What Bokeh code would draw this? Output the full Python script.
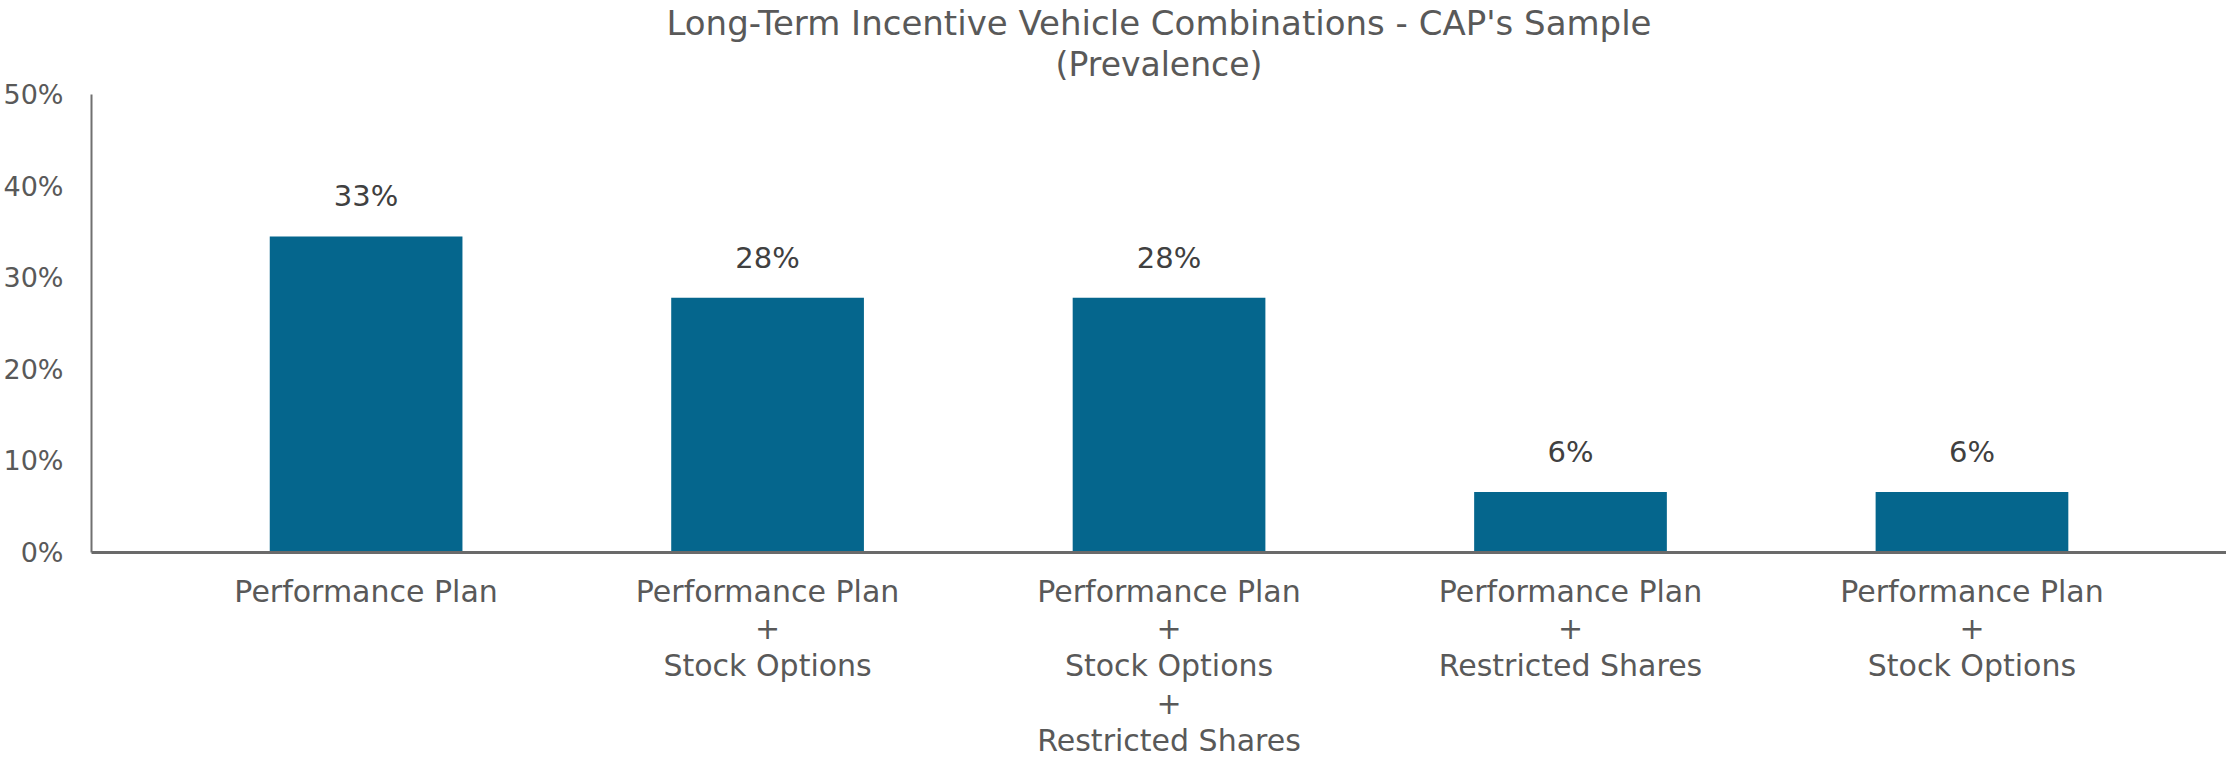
from bokeh.plotting import figure
from bokeh.models import Range1d, FixedTicker, PrintfTickFormatter, ColumnDataSource, LabelSet, Title
from bokeh.embed import file_html
from bokeh.resources import INLINE
from bokeh.core.properties import value

# ---- data ----
categories = [
    "Performance Plan",
    "Performance Plan\n+\nStock Options",
    "Performance Plan\n+\nStock Options\n+\nRestricted Shares",
    "Performance Plan\n+\nRestricted Shares",
    "Performance Plan\n+\nStock Options",
]
prevalence = [34.5, 27.8, 27.8, 6.6, 6.6]          # bar heights (%)
value_labels = ["33%", "28%", "28%", "6%", "6%"]   # printed data labels
y_ticks = [0, 10, 20, 30, 40, 50]
title_text = "Long-Term Incentive Vehicle Combinations - CAP's Sample"
subtitle_text = "(Prevalence)"

FONT = "DejaVu Sans"
GREY = "#595959"

positions = list(range(len(categories)))
source = ColumnDataSource(dict(x=positions, top=prevalence, label=value_labels))

p = figure(
    width=2226, height=768,
    output_backend="svg", toolbar_location=None,
    x_range=Range1d(-0.684, 4.634), y_range=Range1d(0, 51.2),
    min_border_left=80, min_border_right=0, min_border_top=0, min_border_bottom=216,
)
p.title.visible = False
p.outline_line_color = None
p.background_fill_color = "white"
p.border_fill_color = "white"
p.xgrid.visible = False
p.ygrid.visible = False

# titles (later-added title sits farther from the plot)
sub = Title(text=subtitle_text, align="center", text_font=FONT, text_font_style="normal",
            text_font_size="33px", text_color=GREY, standoff=0)
main = Title(text=title_text, align="center", text_font=FONT, text_font_style="normal",
             text_font_size="34px", text_color=GREY, standoff=0)
p.add_layout(sub, "above")
p.add_layout(main, "above")

# bars
p.vbar(x="x", top="top", bottom=0, width=0.48, source=source,
       fill_color="#05668D", line_color=None)

# data labels
labels = LabelSet(x="x", y="top", text="label", source=source,
                  text_align="center", text_baseline="alphabetic", y_offset=30,
                  text_font=value(FONT), text_font_size="29px", text_color="#404040")
p.add_layout(labels)

# y axis (line stops at 50%)
ya = p.yaxis[0]
ya.ticker = FixedTicker(ticks=y_ticks)
ya.bounds = (0, 50)
ya.formatter = PrintfTickFormatter(format="%d%%")
ya.major_tick_line_color = None
ya.minor_tick_line_color = None
ya.axis_line_color = "#707070"
ya.axis_line_width = 2
ya.major_label_text_font = FONT
ya.major_label_text_font_size = "27px"
ya.major_label_text_color = GREY
ya.major_label_standoff = 22

# x axis
xa = p.xaxis[0]
xa.ticker = FixedTicker(ticks=positions)
xa.major_label_overrides = {i: c for i, c in zip(positions, categories)}
xa.major_tick_line_color = None
xa.minor_tick_line_color = None
xa.major_tick_out = 0
xa.major_tick_in = 0
xa.axis_line_color = "#6a6a6a"
xa.axis_line_width = 3
xa.major_label_text_font = FONT
xa.major_label_text_font_size = "30px"
xa.major_label_text_color = GREY
xa.major_label_text_line_height = 1.07
xa.major_label_standoff = 21

open("out.html", "w").write(file_html(p, INLINE))
